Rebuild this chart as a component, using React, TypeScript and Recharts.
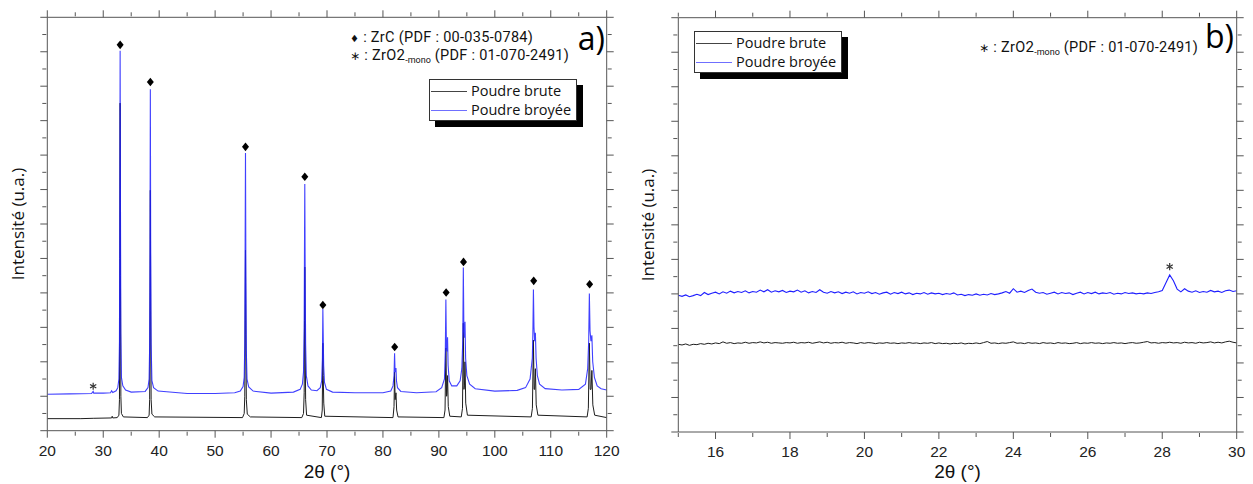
import React from 'react';
import { ComposedChart, Line, XAxis, YAxis } from 'recharts';

// ---------- Panel a) : 20-120 deg ----------
const brutePtsA: [number, number][] = [
  [20, 0.35], [26, 0.35], [28.2, 0.36], [31.5, 0.37], [31.6, 0.42], [31.7, 0.37], [32.5, 0.38],
  [32.8, 0.45], [32.9, 0.9], [32.97, 5.0], [33.02, 9.51], [33.08, 4.5], [33.15, 1.0], [33.25, 0.5], [33.6, 0.4], [37.9, 0.38],
  [38.2, 0.45], [38.3, 0.9], [38.37, 4.0], [38.42, 6.98], [38.48, 3.5], [38.56, 0.9], [38.7, 0.48], [39.2, 0.4], [54.9, 0.38],
  [55.2, 0.5], [55.3, 1.0], [55.37, 3.2], [55.43, 5.24], [55.5, 2.8], [55.58, 0.9], [55.75, 0.48], [56.3, 0.4], [65.5, 0.38],
  [65.8, 0.5], [65.92, 1.1], [65.98, 3.2], [66.03, 4.75], [66.1, 2.6], [66.18, 0.9], [66.35, 0.45], [69.0, 0.38],
  [69.15, 0.6], [69.26, 2.54], [69.33, 1.6], [69.42, 0.8], [69.6, 0.42], [81.8, 0.38],
  [81.98, 0.7], [82.08, 1.7], [82.18, 0.9], [82.33, 1.1], [82.45, 0.6], [82.7, 0.4], [90.9, 0.38],
  [91.1, 0.6], [91.25, 2.4], [91.38, 1.0], [91.45, 1.1], [91.55, 1.6], [91.68, 0.7], [91.95, 0.42], [94.0, 0.4],
  [94.22, 0.65], [94.37, 3.12], [94.48, 1.2], [94.57, 1.3], [94.67, 2.0], [94.8, 0.8], [95.1, 0.45], [106.5, 0.4],
  [106.72, 0.65], [106.9, 2.63], [107.02, 1.2], [107.12, 1.2], [107.25, 1.8], [107.4, 0.75], [107.7, 0.45], [116.5, 0.4],
  [116.72, 0.65], [116.9, 2.54], [117.05, 1.2], [117.2, 1.2], [117.35, 1.75], [117.52, 0.75], [117.85, 0.45], [120, 0.38],
];

const broyeePtsA: [number, number][] = [
  [20, 1.06], [24, 1.07], [27.9, 1.08], [28.1, 1.12], [28.2, 1.14], [28.3, 1.09], [30, 1.09], [31.3, 1.1], [31.5, 1.16], [31.7, 1.11], [32.3, 1.16],
  [32.6, 1.25], [32.8, 1.5], [32.9, 2.6], [32.97, 7.0], [33.02, 11.03], [33.08, 6.5], [33.15, 2.8], [33.25, 1.55], [33.5, 1.3], [34.0, 1.18], [35, 1.12],
  [37.5, 1.14], [38.0, 1.25], [38.2, 1.5], [38.3, 2.5], [38.37, 6.0], [38.42, 9.91], [38.48, 5.5], [38.56, 2.5], [38.7, 1.45], [39.0, 1.25], [39.8, 1.15],
  [45, 1.08], [50, 1.08], [53.5, 1.1], [54.5, 1.15],
  [55.0, 1.28], [55.2, 1.55], [55.3, 2.5], [55.37, 5.5], [55.43, 8.06], [55.5, 4.5], [55.58, 2.3], [55.7, 1.5], [56.0, 1.27], [56.8, 1.15],
  [60, 1.09], [64, 1.12], [65.2, 1.2],
  [65.6, 1.35], [65.8, 1.7], [65.92, 3.0], [65.98, 5.5], [66.03, 7.16], [66.1, 4.5], [66.18, 2.5], [66.3, 1.6], [66.6, 1.3], [67.2, 1.18], [68.2, 1.16], [68.8, 1.25],
  [69.05, 1.45], [69.18, 2.1], [69.26, 3.53], [69.33, 2.7], [69.4, 1.9], [69.55, 1.4], [69.9, 1.2], [71, 1.12], [75, 1.1], [80, 1.1], [81.4, 1.15], [81.8, 1.3],
  [81.98, 1.6], [82.08, 2.25], [82.17, 1.7], [82.27, 1.75], [82.33, 1.82], [82.42, 1.45], [82.6, 1.25], [83.2, 1.14], [86, 1.1], [89.5, 1.13], [90.5, 1.25], [91.0, 1.5],
  [91.15, 2.3], [91.25, 3.81], [91.35, 2.4], [91.45, 2.3], [91.55, 2.71], [91.65, 1.9], [91.85, 1.45], [92.3, 1.3], [93.2, 1.3], [93.8, 1.45], [94.1, 1.8],
  [94.27, 2.6], [94.37, 4.74], [94.47, 2.9], [94.57, 2.7], [94.67, 3.16], [94.78, 2.1], [95.0, 1.6], [95.5, 1.35], [96.5, 1.22], [100, 1.15], [104, 1.17], [105.5, 1.25], [106.3, 1.5],
  [106.7, 2.1], [106.8, 2.8], [106.9, 4.1], [107.0, 3.0], [107.12, 2.6], [107.25, 2.84], [107.38, 2.1], [107.6, 1.6], [108.0, 1.35], [109, 1.22], [112, 1.18], [115, 1.2], [116.2, 1.35],
  [116.6, 1.8], [116.78, 2.6], [116.9, 3.98], [117.02, 2.9], [117.18, 2.6], [117.35, 2.77], [117.5, 2.0], [117.8, 1.55], [118.3, 1.3], [119, 1.22], [120, 1.18],
];

const zrcThetaA = [33.02, 38.42, 55.43, 66.03, 69.26, 82.1, 91.3, 94.4, 106.95, 116.95];
const zrcMarkA = [11.2, 10.12, 8.24, 7.37, 3.65, 2.43, 4.01, 4.9, 4.35, 4.25];
const zro2ThetaA = [28.2];
const zro2MarkA = [1.29];

const majorXA = [20, 30, 40, 50, 60, 70, 80, 90, 100, 110, 120];
const minorXA = [25, 35, 45, 55, 65, 75, 85, 95, 105, 115];

// ---------- Panel b) : 15-30 deg ----------
const thetaB = [
  15.0, 15.1, 15.2, 15.3, 15.4, 15.5, 15.6, 15.7, 15.8, 15.9,
  16.0, 16.1, 16.2, 16.3, 16.4, 16.5, 16.6, 16.7, 16.8, 16.9,
  17.0, 17.1, 17.2, 17.3, 17.4, 17.5, 17.6, 17.7, 17.8, 17.9,
  18.0, 18.1, 18.2, 18.3, 18.4, 18.5, 18.6, 18.7, 18.8, 18.9,
  19.0, 19.1, 19.2, 19.3, 19.4, 19.5, 19.6, 19.7, 19.8, 19.9,
  20.0, 20.1, 20.2, 20.3, 20.4, 20.5, 20.6, 20.7, 20.8, 20.9,
  21.0, 21.1, 21.2, 21.3, 21.4, 21.5, 21.6, 21.7, 21.8, 21.9,
  22.0, 22.1, 22.2, 22.3, 22.4, 22.5, 22.6, 22.7, 22.8, 22.9,
  23.0, 23.1, 23.2, 23.3, 23.4, 23.5, 23.6, 23.7, 23.8, 23.9,
  24.0, 24.1, 24.2, 24.3, 24.4, 24.5, 24.6, 24.7, 24.8, 24.9,
  25.0, 25.1, 25.2, 25.3, 25.4, 25.5, 25.6, 25.7, 25.8, 25.9,
  26.0, 26.1, 26.2, 26.3, 26.4, 26.5, 26.6, 26.7, 26.8, 26.9,
  27.0, 27.1, 27.2, 27.3, 27.4, 27.5, 27.6, 27.7, 27.8, 27.9,
  28.0, 28.1, 28.2, 28.3, 28.4, 28.5, 28.6, 28.7, 28.8, 28.9,
  29.0, 29.1, 29.2, 29.3, 29.4, 29.5, 29.6, 29.7, 29.8, 29.9,
  30.0,
];

const bruteB = [
  2.54, 2.52, 2.55, 2.51, 2.54, 2.53, 2.56, 2.54, 2.57, 2.55,
  2.58, 2.56, 2.61, 2.57, 2.59, 2.56, 2.58, 2.57, 2.60, 2.57,
  2.59, 2.58, 2.61, 2.58, 2.60, 2.57, 2.59, 2.58, 2.57, 2.59,
  2.58, 2.60, 2.57, 2.59, 2.58, 2.60, 2.57, 2.59, 2.61, 2.58,
  2.60, 2.57, 2.59, 2.58, 2.60, 2.57, 2.59, 2.58, 2.56, 2.59,
  2.57, 2.59, 2.58, 2.56, 2.58, 2.57, 2.59, 2.57, 2.58, 2.56,
  2.58, 2.57, 2.59, 2.57, 2.58, 2.56, 2.58, 2.57, 2.59, 2.56,
  2.58, 2.56, 2.57, 2.55, 2.57, 2.56, 2.58, 2.55, 2.57, 2.56,
  2.58, 2.56, 2.59, 2.62, 2.57, 2.58, 2.56, 2.58, 2.57, 2.59,
  2.61, 2.57, 2.58, 2.56, 2.59, 2.57, 2.58, 2.56, 2.59, 2.57,
  2.58, 2.56, 2.59, 2.57, 2.58, 2.56, 2.57, 2.59, 2.56, 2.58,
  2.57, 2.59, 2.57, 2.58, 2.56, 2.58, 2.57, 2.59, 2.57, 2.58,
  2.56, 2.58, 2.59, 2.57, 2.58, 2.60, 2.62, 2.58, 2.59, 2.57,
  2.59, 2.58, 2.60, 2.58, 2.59, 2.57, 2.60, 2.58, 2.59, 2.57,
  2.60, 2.58, 2.59, 2.61, 2.58, 2.60, 2.58, 2.61, 2.63, 2.60,
  2.58,
];

const broyeeB = [
  3.96, 3.93, 3.97, 3.92, 3.95, 3.99, 3.95, 4.04, 3.98, 4.02,
  4.05, 4.00, 4.06, 4.02, 4.08, 4.03, 4.07, 4.04, 4.09, 4.03,
  4.07, 4.05, 4.11, 4.06, 4.12, 4.05, 4.09, 4.06, 4.10, 4.04,
  4.08, 4.06, 4.11, 4.05, 4.09, 4.03, 4.07, 4.04, 4.12, 4.05,
  4.02, 4.07, 4.03, 4.06, 4.01, 4.05, 4.02, 4.06, 4.00, 4.04,
  4.02, 4.06, 4.01, 4.04, 3.99, 4.03, 4.05, 3.99, 4.04, 4.01,
  4.05, 4.00, 4.03, 3.98, 4.02, 4.00, 4.04, 3.99, 4.03, 4.00,
  4.02, 3.98, 4.01, 3.99, 4.03, 3.97, 3.99, 3.95, 3.98, 3.96,
  4.00, 3.96, 3.99, 3.97, 4.01, 3.98, 4.00, 4.03, 4.07, 4.02,
  4.15, 4.05, 4.08, 4.04, 4.10, 4.14, 4.05, 4.02, 4.04, 3.99,
  4.02, 4.05, 4.00, 4.04, 4.01, 4.03, 3.98, 4.02, 4.05, 4.00,
  4.04, 4.01, 4.05, 4.00, 4.03, 4.01, 4.04, 3.99, 4.02, 4.00,
  4.04, 4.01, 4.03, 4.00, 4.02, 4.00, 4.03, 4.01, 4.04, 4.06,
  4.10, 4.32, 4.55, 4.38, 4.14, 4.06, 4.15, 4.08, 4.05, 4.09,
  4.04, 4.07, 4.05, 4.10, 4.06, 4.08, 4.04, 4.09, 4.11, 4.07,
  4.09,
];

const zro2ThetaB = [28.2];
const zro2MarkB = [4.79];

const majorXB = [16, 18, 20, 22, 24, 26, 28, 30];
const minorXB = [15, 17, 19, 21, 23, 25, 27, 29];

// shared intensity ticks (arbitrary units, no labels)
const majorY = [0, 1, 2, 3, 4, 5, 6, 7, 8, 9, 10, 11, 12];
const minorY = [0.5, 1.5, 2.5, 3.5, 4.5, 5.5, 6.5, 7.5, 8.5, 9.5, 10.5, 11.5];

// ---------- tables built from the arrays ----------
const toRows = (arr: [number, number][]) => arr.map(([x, v]) => ({ x, v }));
const bruteA = toRows(brutePtsA);
const broyeeA = toRows(broyeePtsA);
const zrcA = zrcThetaA.map((x, i) => ({ x, v: zrcMarkA[i] }));
const zro2A = zro2ThetaA.map((x, i) => ({ x, v: zro2MarkA[i] }));
const rowsB = thetaB.map((x, i) => ({ x, brute: bruteB[i], broyee: broyeeB[i] }));
const zro2B = zro2ThetaB.map((x, i) => ({ x, v: zro2MarkB[i] }));

const BLACK = '#1e1e1e';
const BLUE = '#1f1fff';
const AXIS = '#555';
const SANS = '"Open Sans", "DejaVu Sans", sans-serif';
const ANN = 'Roboto, "DejaVu Sans", sans-serif';
const ARIAL = '"Liberation Sans", Arial, sans-serif';

const Diamond = (p: any) => {
  const { cx, cy, index } = p;
  if (cx == null || cy == null) return <g key={`dd${index}`} />;
  return (
    <path
      key={`d${index}`}
      d={`M${cx},${cy - 4.3}L${cx + 3.5},${cy}L${cx},${cy + 4.3}L${cx - 3.5},${cy}Z`}
      fill="#000"
    />
  );
};

const Star = (p: any) => {
  const { cx, cy, index } = p;
  if (cx == null || cy == null) return <g key={`ss${index}`} />;
  const r = 3.6;
  const a = r * 0.866;
  const b = r * 0.5;
  return (
    <g key={`s${index}`} stroke="#333" strokeWidth={1.2}>
      <line x1={cx} y1={cy - r} x2={cx} y2={cy + r} />
      <line x1={cx - a} y1={cy - b} x2={cx + a} y2={cy + b} />
      <line x1={cx - a} y1={cy + b} x2={cx + a} y2={cy - b} />
    </g>
  );
};

const tickFont = { fontFamily: ARIAL, fontSize: 15.5, fill: '#222' };

// Each side: the major axis (with the frame line) first, then a 1px-offset minor-tick axis.
function axes(domainX: [number, number], majorX: number[], minorX: number[]) {
  const common = { type: 'number' as const, allowDataOverflow: true, interval: 0 as const };
  return [
    <XAxis key="xb" xAxisId="b" dataKey="x" {...common} domain={domainX} ticks={majorX} height={1}
      tickSize={7} tickMargin={7} tick={tickFont} axisLine={{ stroke: AXIS }} tickLine={{ stroke: AXIS }} />,
    <XAxis key="xbm" xAxisId="bm" dataKey="x" {...common} domain={domainX} ticks={minorX} height={1}
      tickSize={4} tickFormatter={() => ''} axisLine={false} tickLine={{ stroke: AXIS }} />,
    <XAxis key="xt" xAxisId="t" orientation="top" dataKey="x" {...common} domain={domainX} ticks={majorX} height={1}
      tickSize={7} tickFormatter={() => ''} axisLine={{ stroke: AXIS }} tickLine={{ stroke: AXIS }} />,
    <XAxis key="xtm" xAxisId="tm" orientation="top" dataKey="x" {...common} domain={domainX} ticks={minorX} height={1}
      tickSize={4} tickFormatter={() => ''} axisLine={false} tickLine={{ stroke: AXIS }} />,
    <YAxis key="yl" yAxisId="l" {...common} domain={[0, 12]} ticks={majorY} width={1}
      tickSize={7} tickFormatter={() => ''} axisLine={{ stroke: AXIS }} tickLine={{ stroke: AXIS }} />,
    <YAxis key="ylm" yAxisId="lm" {...common} domain={[0, 12]} ticks={minorY} width={1}
      tickSize={4} tickFormatter={() => ''} axisLine={false} tickLine={{ stroke: AXIS }} />,
    <YAxis key="yr" yAxisId="r" orientation="right" {...common} domain={[0, 12]} ticks={majorY} width={1}
      tickSize={7} tickFormatter={() => ''} axisLine={{ stroke: AXIS }} tickLine={{ stroke: AXIS }} />,
    <YAxis key="yrm" yAxisId="rm" orientation="right" {...common} domain={[0, 12]} ticks={minorY} width={1}
      tickSize={4} tickFormatter={() => ''} axisLine={false} tickLine={{ stroke: AXIS }} />,
  ];
}

const LegendBox = ({ left, top }: { left: number; top: number }) => (
  <div
    style={{
      position: 'absolute', left, top, width: 148, height: 42, boxSizing: 'border-box',
      border: '1px solid #333', background: '#fff', boxShadow: '6px 6px 0 #000',
      fontFamily: SANS, fontSize: 14.5, color: '#111',
    }}
  >
    <div style={{ position: 'absolute', left: 1, top: 11, width: 36, borderTop: '1px solid #444' }} />
    <div style={{ position: 'absolute', left: 41, top: 1, lineHeight: '20px', whiteSpace: 'nowrap' }}>Poudre brute</div>
    <div style={{ position: 'absolute', left: 1, top: 30, width: 36, borderTop: '1px solid #6f6fff' }} />
    <div style={{ position: 'absolute', left: 41, top: 20, lineHeight: '20px', whiteSpace: 'nowrap' }}>Poudre broyée</div>
  </div>
);

const ZrO2Text = () => (
  <span>
    <span style={{ fontFamily: '"DejaVu Sans", sans-serif', fontSize: 12 }}>∗</span> : ZrO
    <span style={{ fontSize: 15 }}>2</span>
    <span style={{ fontSize: 9, position: 'relative', top: 3, letterSpacing: 0 }}>-mono</span> (PDF : 01-070-2491)
  </span>
);

const YTitle = ({ cx, cy }: { cx: number; cy: number }) => (
  <div
    style={{
      position: 'absolute', left: cx - 100, top: cy - 12, width: 200, height: 24, lineHeight: '24px',
      textAlign: 'center', transform: 'rotate(-90deg)', fontFamily: SANS, fontSize: 17, color: '#111',
    }}
  >
    Intensité (u.a.)
  </div>
);

const XTitle = ({ cx, cy }: { cx: number; cy: number }) => (
  <div
    style={{
      position: 'absolute', left: cx - 60, top: cy - 12, width: 120, height: 24, lineHeight: '24px',
      textAlign: 'center', fontFamily: ARIAL, fontSize: 19, color: '#111',
    }}
  >
    2θ (°)
  </div>
);

const annStyle: React.CSSProperties = {
  position: 'absolute', lineHeight: '16px', fontFamily: ANN, fontSize: 14.5, letterSpacing: 0.3,
  color: '#111', whiteSpace: 'nowrap',
};

export default function App() {
  return (
    <div style={{ position: 'absolute', left: 0, top: 0, width: 1253, height: 484, background: '#fff', overflow: 'hidden' }}>
      {/* Panel a */}
      <div style={{ position: 'absolute', left: 0, top: 0 }}>
        <ComposedChart width={630} height={484} margin={{ top: 15.3, right: 21.3, bottom: 51.3, left: 45.3 }}>
          {axes([20, 120], majorXA, minorXA)}
          <Line data={bruteA} xAxisId="b" yAxisId="l" dataKey="v" type="linear" stroke={BLACK} strokeWidth={1}
            dot={false} activeDot={false} isAnimationActive={false} />
          <Line data={broyeeA} xAxisId="b" yAxisId="l" dataKey="v" type="linear" stroke={BLUE} strokeWidth={1.1}
            strokeOpacity={0.85} dot={false} activeDot={false} isAnimationActive={false} />
          <Line data={zrcA} xAxisId="b" yAxisId="l" dataKey="v" stroke="none" dot={Diamond} activeDot={false}
            isAnimationActive={false} />
          <Line data={zro2A} xAxisId="b" yAxisId="l" dataKey="v" stroke="none" dot={Star} activeDot={false}
            isAnimationActive={false} />
        </ComposedChart>
      </div>

      {/* Panel b */}
      <div style={{ position: 'absolute', left: 630, top: 0 }}>
        <ComposedChart width={623} height={484} margin={{ top: 15.7, right: 14.3, bottom: 50, left: 46.3 }}>
          {axes([15, 30], majorXB, minorXB)}
          <Line data={rowsB} xAxisId="b" yAxisId="l" dataKey="brute" type="linear" stroke={BLACK} strokeWidth={1}
            dot={false} activeDot={false} isAnimationActive={false} />
          <Line data={rowsB} xAxisId="b" yAxisId="l" dataKey="broyee" type="linear" stroke={BLUE} strokeWidth={1.1}
            dot={false} activeDot={false} isAnimationActive={false} />
          <Line data={zro2B} xAxisId="b" yAxisId="l" dataKey="v" stroke="none" dot={Star} activeDot={false}
            isAnimationActive={false} />
        </ComposedChart>
      </div>

      {/* Panel a annotations */}
      <div style={{ ...annStyle, left: 350, top: 29.7 }}>
        <span style={{ fontFamily: '"DejaVu Sans", sans-serif', fontSize: 10 }}>♦</span> : ZrC (PDF : 00-035-0784)
      </div>
      <div style={{ ...annStyle, left: 350, top: 47.2 }}>
        <ZrO2Text />
      </div>
      <div style={{ position: 'absolute', left: 555, top: 18, width: 50, lineHeight: '40px', textAlign: 'right', fontFamily: SANS, fontSize: 32, color: '#000' }}>a)</div>
      <LegendBox left={429} top={79} />
      <YTitle cx={18} cy={224} />
      <XTitle cx={327} cy={471.7} />

      {/* Panel b annotations */}
      <div style={{ ...annStyle, left: 979, top: 38.9 }}>
        <ZrO2Text />
      </div>
      <div style={{ position: 'absolute', left: 1184, top: 16, width: 50, lineHeight: '40px', textAlign: 'right', fontFamily: SANS, fontSize: 32, color: '#000' }}>b)</div>
      <LegendBox left={694} top={31} />
      <YTitle cx={648} cy={225} />
      <XTitle cx={957.5} cy={472} />
    </div>
  );
}
